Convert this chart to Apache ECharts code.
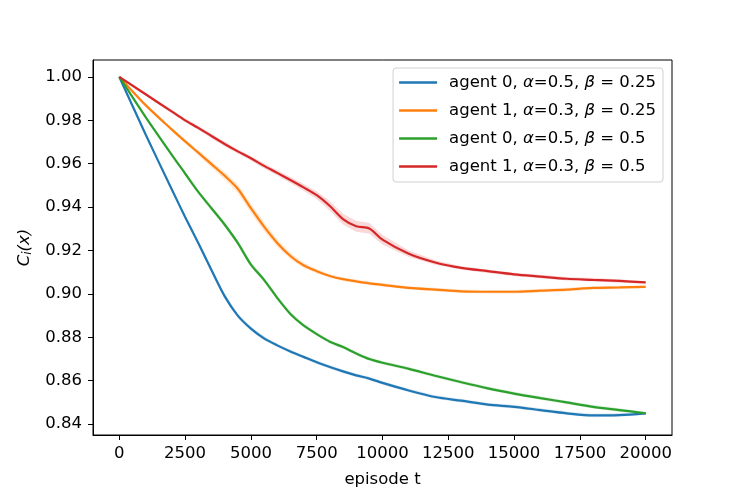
<!doctype html>
<html lang="en" style="height: 100%">
<head>
  <meta charset="utf-8" />
  <script type="text/javascript" src="https://fastly.jsdelivr.net/npm/echarts@6.0.0/dist/echarts.min.js"></script>
</head>
<body style="height: 100%; margin: 0; background: #fff">
  <div id="main" style="width: 747px; height: 498px"></div>
  <script type="text/javascript">
    var episodes = [0, 1000, 2000, 2500, 3000, 3500, 4000, 4500, 5000, 5500, 6000, 6500, 7000, 7500,
      8000, 8500, 9000, 9500, 10000, 11000, 12000, 13000, 14000, 15000, 16000, 17000, 18000, 19000, 20000];

    var agent0_b025 = [1.000, 0.9735, 0.948, 0.9355, 0.9235, 0.911, 0.899, 0.890, 0.884, 0.8795, 0.8763, 0.8735, 0.871, 0.8685,
      0.8663, 0.8643, 0.8625, 0.861, 0.859, 0.8555, 0.8525, 0.8508, 0.849, 0.848, 0.8465, 0.845, 0.844, 0.8442, 0.845];
    var agent1_b025 = [1.000, 0.987, 0.9757, 0.9703, 0.9651, 0.9598, 0.9545, 0.9485, 0.9395, 0.931, 0.9235, 0.9175, 0.9132, 0.9105,
      0.9083, 0.9068, 0.9058, 0.9049, 0.9042, 0.9028, 0.902, 0.9012, 0.901, 0.901, 0.9015, 0.902, 0.9028, 0.903, 0.9033];
    var agent0_b05 = [1.000, 0.9815, 0.964, 0.9555, 0.947, 0.9395, 0.932, 0.9235, 0.9135, 0.9065, 0.8982, 0.8908, 0.8855, 0.8815,
      0.878, 0.8755, 0.8726, 0.870, 0.8683, 0.8655, 0.8623, 0.8593, 0.8565, 0.8541, 0.852, 0.850, 0.848, 0.8465, 0.845];
    var agent1_b05 = [1.000, 0.992, 0.984, 0.980, 0.9765, 0.9728, 0.9691, 0.9657, 0.9625, 0.959, 0.9558, 0.9525, 0.9491, 0.9455,
      0.9405, 0.9345, 0.9312, 0.9302, 0.925, 0.9185, 0.9145, 0.912, 0.9105, 0.909, 0.908, 0.907, 0.9065, 0.906, 0.9053];

    // half-width of the shaded spread around each curve
    var spread0_b025 = [0, 0.0005, 0.0008, 0.0008, 0.0010, 0.0012, 0.0012, 0.0010, 0.0010, 0.0010, 0.0008, 0.0008, 0.0008, 0.0008,
      0.0008, 0.0008, 0.0008, 0.0008, 0.0008, 0.0008, 0.0008, 0.0008, 0.0008, 0.0008, 0.0008, 0.0008, 0.0008, 0.0008, 0.0006];
    var spread1_b025 = [0, 0.0005, 0.0008, 0.0010, 0.0012, 0.0015, 0.0018, 0.0020, 0.0022, 0.0022, 0.0018, 0.0015, 0.0012, 0.0010,
      0.0008, 0.0008, 0.0008, 0.0008, 0.0008, 0.0008, 0.0008, 0.0008, 0.0008, 0.0008, 0.0008, 0.0008, 0.0008, 0.0008, 0.0006];
    var spread0_b05 = [0, 0.0005, 0.0008, 0.0008, 0.0010, 0.0010, 0.0012, 0.0012, 0.0012, 0.0012, 0.0010, 0.0010, 0.0008, 0.0008,
      0.0008, 0.0008, 0.0008, 0.0008, 0.0008, 0.0008, 0.0008, 0.0008, 0.0008, 0.0008, 0.0008, 0.0008, 0.0008, 0.0008, 0.0006];
    var spread1_b05 = [0, 0.0005, 0.0008, 0.0008, 0.0010, 0.0010, 0.0010, 0.0010, 0.0010, 0.0012, 0.0012, 0.0014, 0.0016, 0.0018,
      0.0022, 0.0025, 0.0025, 0.0025, 0.0022, 0.0015, 0.0010, 0.0008, 0.0008, 0.0008, 0.0008, 0.0008, 0.0008, 0.0008, 0.0006];

    var xTicks = [0, 2500, 5000, 7500, 10000, 12500, 15000, 17500, 20000];
    var yTicks = [0.84, 0.86, 0.88, 0.90, 0.92, 0.94, 0.96, 0.98, 1.00];

    var curves = [
      { name: 'a0b025', label: ['agent 0, ', '=0.5, ', ' = 0.25'], values: agent0_b025, spread: spread0_b025, color: '#1f77b4' },
      { name: 'a1b025', label: ['agent 1, ', '=0.3, ', ' = 0.25'], values: agent1_b025, spread: spread1_b025, color: '#ff7f0e' },
      { name: 'a0b05', label: ['agent 0, ', '=0.5, ', ' = 0.5'], values: agent0_b05, spread: spread0_b05, color: '#2ca02c' },
      { name: 'a1b05', label: ['agent 1, ', '=0.3, ', ' = 0.5'], values: agent1_b05, spread: spread1_b05, color: '#d62728' }
    ];

    var font = 'DejaVu Sans';
    var fs = 16.5;
    var series = [];

    // shaded bands, drawn as one polygon per curve through the axis scales
    curves.forEach(function (c) {
      series.push({
        type: 'custom', silent: true, z: 1, clip: true,
        data: [[episodes[0], c.values[0]]],
        renderItem: function (params, api) {
          var upper = c.values.map(function (v, i) { return api.coord([episodes[i], v + c.spread[i]]); });
          var lower = c.values.map(function (v, i) { return api.coord([episodes[i], v - c.spread[i]]); }).reverse();
          return {
            type: 'polygon',
            shape: { points: upper.concat(lower) },
            style: { fill: c.color, opacity: 0.18 }
          };
        }
      });
    });
    curves.forEach(function (c) {
      series.push({
        name: c.name, type: 'line', smooth: 0.3, symbol: 'none',
        data: c.values.map(function (v, i) { return [episodes[i], v]; }),
        lineStyle: { color: c.color, width: 2.2 }, itemStyle: { color: c.color }, z: 3
      });
    });

    var labelByName = {};
    curves.forEach(function (c) { labelByName[c.name] = c; });

    var myChart = echarts.init(document.getElementById('main'));
    var option = {
      animation: false,
      backgroundColor: '#fff',
      grid: { left: 93, right: 75, top: 60, bottom: 63, show: true, borderColor: '#000', borderWidth: 1, backgroundColor: 'transparent' },
      legend: {
        data: curves.map(function (c) { return c.name; }),
        orient: 'vertical', right: 84, top: 68,
        itemWidth: 38, itemHeight: 2.5, itemGap: 11, icon: 'rect',
        backgroundColor: '#fff', borderColor: '#d0d0d0', borderWidth: 1, borderRadius: 3,
        padding: [6, 7, 7, 6],
        formatter: function (name) {
          var l = labelByName[name].label;
          return '{p|}{n|' + l[0] + '}{i|α}{n|' + l[1] + '}{i|β}{n|' + l[2] + '}';
        },
        textStyle: {
          fontFamily: font, fontSize: fs, color: '#000',
          rich: {
            p: { width: 7, height: 20 },
            n: { fontFamily: font, fontSize: fs, color: '#000', height: 20 },
            i: { fontFamily: font, fontSize: fs, fontStyle: 'italic', color: '#000', height: 20 }
          }
        }
      },
      xAxis: {
        type: 'value', min: -1000, max: 21000,
        name: 'episode t', nameLocation: 'middle', nameGap: 36,
        nameTextStyle: { fontFamily: font, fontSize: fs, color: '#000' },
        axisLine: { show: true, onZero: false, lineStyle: { color: '#000' } },
        axisTick: { show: true, length: 5, lineStyle: { color: '#000' }, customValues: xTicks },
        axisLabel: {
          fontFamily: font, fontSize: fs, color: '#000', margin: 10, customValues: xTicks,
          formatter: function (v) { return String(v); }
        },
        splitLine: { show: false }
      },
      yAxis: {
        type: 'value', min: 0.835, max: 1.0078,
        name: '{c|C}{s|i}{c|(x)}', nameLocation: 'middle', nameGap: 57, nameRotate: 90,
        nameTextStyle: {
          fontFamily: font, fontSize: fs, color: '#000',
          rich: {
            c: { fontFamily: font, fontSize: fs, fontStyle: 'italic', color: '#000' },
            s: { fontFamily: font, fontSize: 11.5, fontStyle: 'italic', color: '#000', padding: [7, 0, 0, 0] }
          }
        },
        axisLine: { show: true, onZero: false, lineStyle: { color: '#000' } },
        axisTick: { show: true, length: 5, lineStyle: { color: '#000' }, customValues: yTicks },
        axisLabel: {
          fontFamily: font, fontSize: fs, color: '#000', margin: 11, customValues: yTicks,
          formatter: function (v) { return v.toFixed(2); }
        },
        splitLine: { show: false }
      },
      series: series
    };
    myChart.setOption(option);
  </script>
</body>
</html>
